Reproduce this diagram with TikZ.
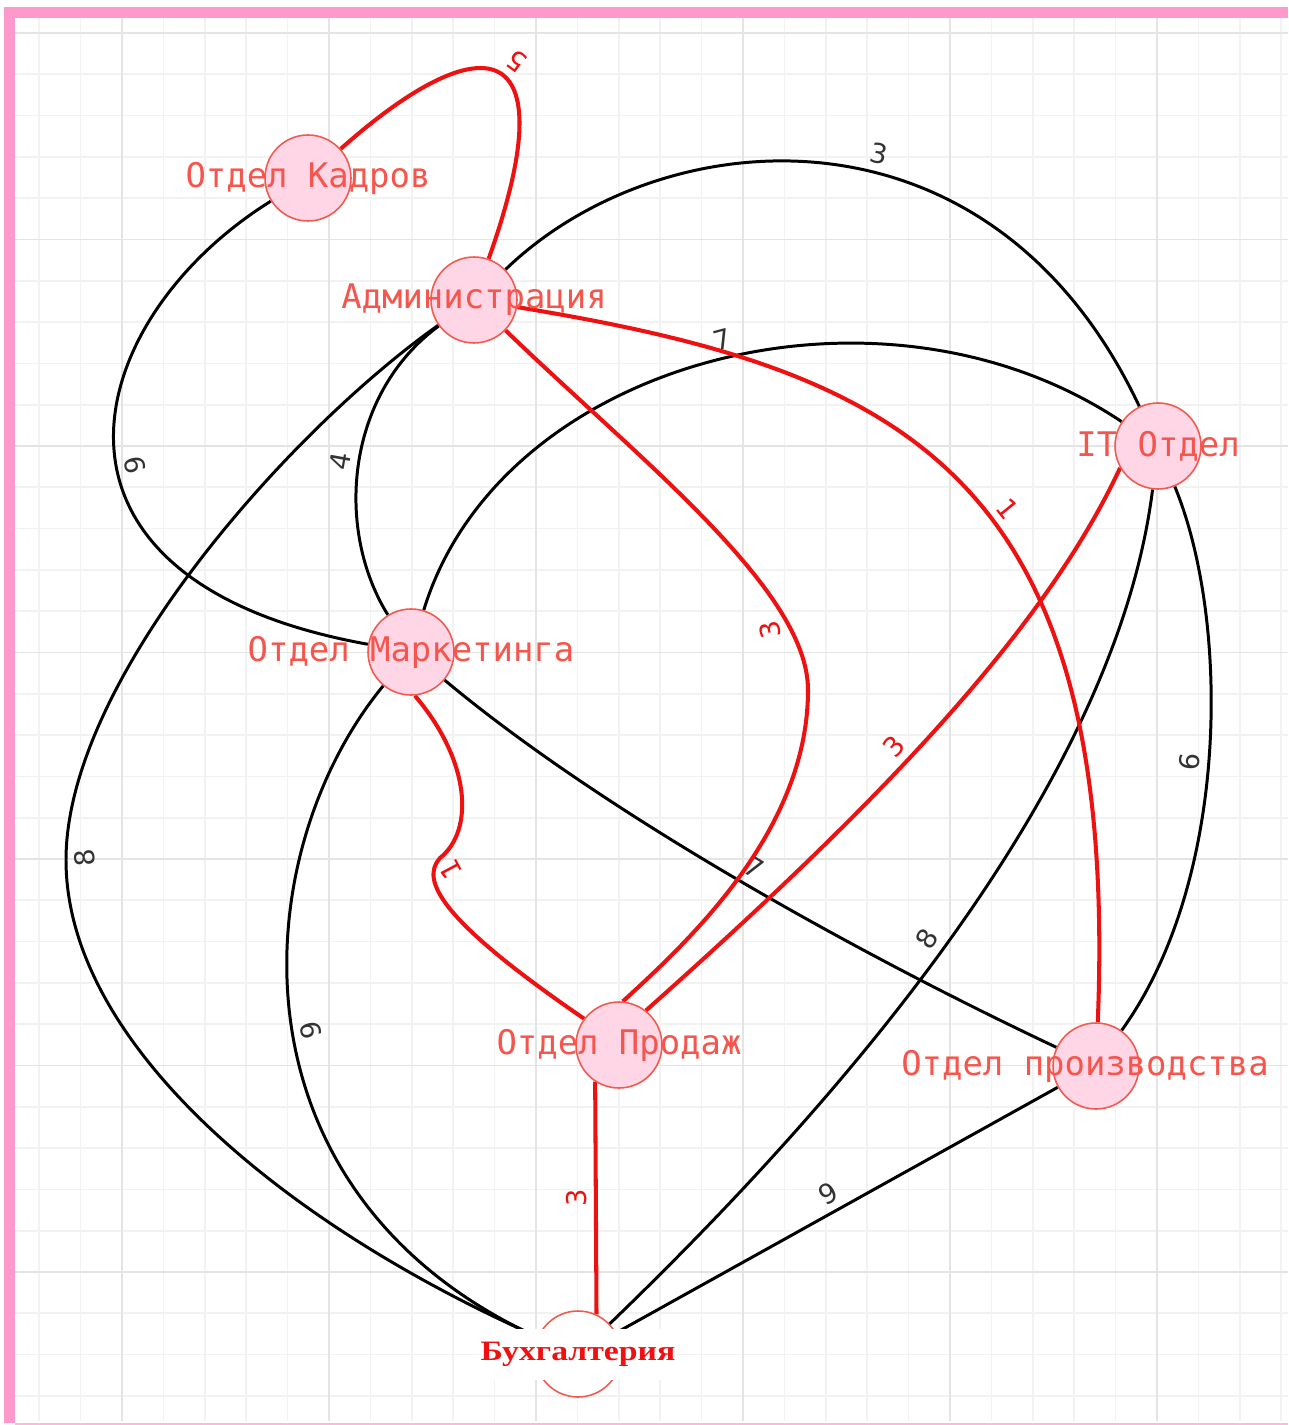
\documentclass[tikz,border=0pt]{standalone}
\usepackage{fontspec}
\usepackage{graphicx}
\usepackage{xcolor}
\usetikzlibrary{backgrounds}
\newfontfamily\deptfont{DejaVu Sans Mono}
\newfontfamily\weightfont{DejaVu Sans}
\newfontfamily\buhfont{Liberation Serif}
\definecolor{gridminor}{HTML}{F2F2F2}
\definecolor{gridmajor}{HTML}{E4E4E4}
\definecolor{framepink}{HTML}{FF99CC}
\definecolor{nodefill}{HTML}{FFD6E5}
\definecolor{nodeline}{HTML}{F25A50}
\definecolor{nodetext}{HTML}{F5554C}
\definecolor{mstred}{HTML}{EE1111}
\definecolor{wtgray}{HTML}{333333}

\begin{document}
\begin{tikzpicture}[
    x=0.02cm, y=-0.02cm,
    dept/.style={circle, draw=nodeline, fill=nodefill, line width=0.9pt, minimum size=1.72cm, inner sep=0pt},
    dept_label/.style={text=nodetext, font=\deptfont\fontsize{19.3}{20}\selectfont, inner sep=0pt},
    buh_node/.style={dept, fill=white},
    buh_label/.style={fill=white, text=mstred, font=\buhfont\bfseries\fontsize{16}{18}\selectfont, inner xsep=1pt, inner ysep=0pt, minimum height=1.02cm},
    black_edge/.style={draw=black, line width=1.7pt},
    red_edge/.style={draw=mstred, line width=2.3pt},
    wt/.style={font=\weightfont\fontsize{15.5}{16}\selectfont, text=wtgray, inner sep=4pt},
    red_wt/.style={wt, text=mstred},
    grid_minor/.style={draw=gridminor, line width=1pt},
    grid_major/.style={draw=gridmajor, line width=1pt}
]
\useasboundingbox (0,0) rectangle (1288,1425);

\begin{pgfonlayer}{background}
\fill[white] (0,0) rectangle (1288,1425);
\foreach \gx in {0,...,30}
    \draw[grid_minor] ({39.2+41.4*\gx},18) -- ({39.2+41.4*\gx},1421);
\foreach \gy in {0,...,33}
    \draw[grid_minor] (15,{33+41.3*\gy}) -- (1288,{33+41.3*\gy});
\foreach \gx in {122,329,536,743,950,1157}
    \draw[grid_major] (\gx,18) -- (\gx,1421);
\foreach \gy in {33,239.5,446,652.5,859,1065.5,1272}
    \draw[grid_major] (15,\gy) -- (1288,\gy);
\fill[framepink] (4,7) rectangle (1288,18);
\fill[framepink] (4,7) rectangle (15,1423);
\fill[framepink!70] (15,1422.5) rectangle (1288,1425);
\end{pgfonlayer}

\node[dept, label={[dept_label]center:Отдел Кадров}] (kadr) at (308,178) {};
\node[dept, label={[dept_label]center:Администрация}] (adm) at (474,300) {};
\node[dept, label={[dept_label]center:IT Отдел}] (it) at (1158,446) {};
\node[dept, label={[dept_label]center:Отдел Маркетинга}] (mkt) at (411,652) {};
\node[dept, label={[dept_label]center:Отдел Продаж}] (prod) at (619,1045) {};
\node[dept, label={[dept_label, xshift=-0.22cm]center:Отдел производства}] (proizv) at (1096,1066) {};
\node[buh_node, label={[buh_label]center:{\scalebox{1.2}[1]{Бухгалтерия}}}] (buh) at (578,1354) {};

\begin{pgfonlayer}{background}
\draw[black_edge] (kadr) .. controls (80,320) and (10,580) .. node[pos=0.55, wt, rotate=102, anchor=north] {9} (mkt);
\draw[black_edge] (adm) .. controls (660,120) and (990,90) .. node[pos=0.57, wt, rotate=-12, anchor=south] {3} (it);
\draw[black_edge] (adm) .. controls (345,395) and (335,530) .. node[pos=0.5, wt, rotate=80, anchor=south] {4} (mkt);
\draw[black_edge] (adm) .. controls (290,430) and (66,680) .. (66,860) node[wt, rotate=96, anchor=north] {8}
    .. controls (66,1050) and (300,1240) .. (buh.center);
\draw[black_edge] (mkt) .. controls (500,360) and (880,260) .. node[pos=0.52, wt, rotate=15, anchor=south] {7} (it);
\draw[black_edge] (mkt) .. controls (240,860) and (220,1220) .. node[pos=0.5, wt, rotate=103, anchor=north] {9} (buh.center);
\draw[black_edge] (mkt) .. controls (600,810) and (850,950) .. node[pos=0.52, wt, rotate=-31, anchor=south] {7} (proizv);
\draw[black_edge] (it) .. controls (1230,620) and (1230,880) .. node[pos=0.52, wt, rotate=84, anchor=south] {6} (proizv);
\draw[black_edge] (it) .. controls (1120,750) and (900,1050) .. node[pos=0.55, wt, rotate=57, anchor=south] {8} (buh.center);
\draw[black_edge] (proizv) -- node[pos=0.46, wt, rotate=29, anchor=south] {9} (buh.center);

\draw[red_edge] (kadr) .. controls (480,25) and (570,30) .. node[pos=0.55, red_wt, rotate=144, anchor=north] {5} (adm);
\draw[red_edge] (adm) .. controls (640,460) and (808,590) .. node[pos=0.8, red_wt, rotate=101, anchor=south] {3} (808,690)
    .. controls (808,830) and (690,940) .. (prod.85);
\draw[red_edge] (adm) .. controls (900,370) and (1120,470) .. node[pos=0.56, red_wt, rotate=-51, anchor=south] {1} (proizv);
\draw[red_edge] (it.210) .. controls (1040,640) and (860,820) .. node[pos=0.55, red_wt, rotate=48, anchor=south] {3} (prod.52);
\draw[red_edge] (mkt.275) .. controls (470,760) and (475,830) .. (440,858)
    .. controls (420,880) and (440,920) .. node[pos=0.25, red_wt, rotate=118, anchor=north] {1} (prod.143);
\draw[red_edge] (prod.237) -- node[pos=0.5, red_wt, rotate=90, anchor=south] {3} (buh.65);
\end{pgfonlayer}
\end{tikzpicture}
\end{document}
